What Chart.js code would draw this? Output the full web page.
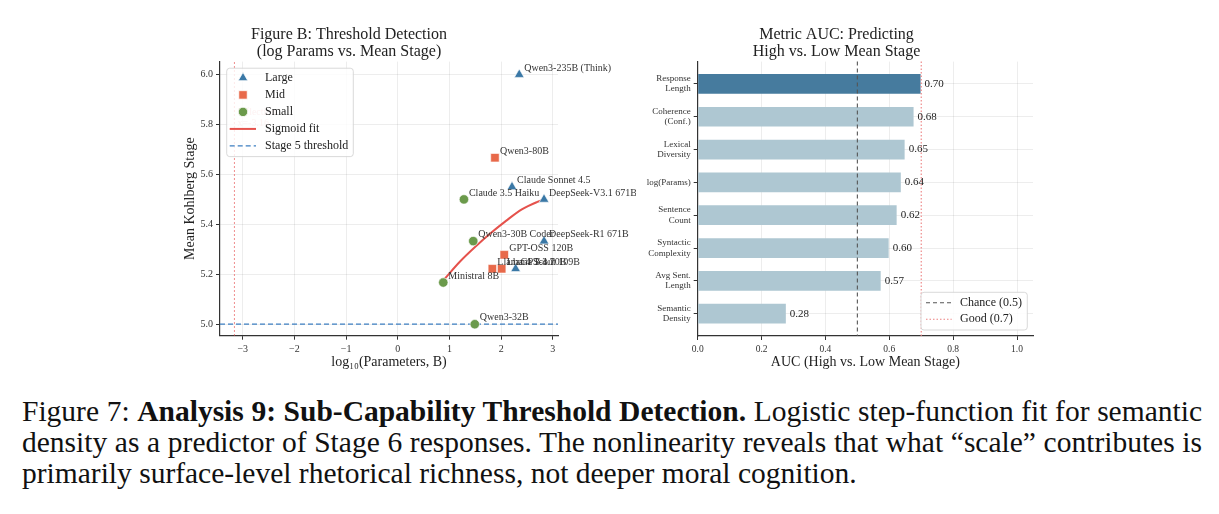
<!DOCTYPE html>
<html>
<head>
<meta charset="utf-8">
<script src="https://cdn.jsdelivr.net/npm/chart.js@4.4.1/dist/chart.umd.min.js"></script>
<style>
  body { margin: 0; background: #fff; width: 1219px; height: 514px; overflow: hidden; position: relative;
         font-family: 'Liberation Serif', 'DejaVu Serif', serif; }
  canvas { position: absolute; top: 0; }
  #leftChart { left: 140px; }
  #rightChart { left: 640px; }
  .cap { position: absolute; left: 22px; width: 1180px; font-size: 29.5px; line-height: 31px; color: #111; }
  .just { text-align: justify; text-align-last: justify; }
</style>
</head>
<body>
<canvas id="leftChart" width="496" height="380"></canvas>
<canvas id="rightChart" width="451" height="380"></canvas>

<div class="cap just" style="top:396px">Figure 7: <b>Analysis 9: Sub-Capability Threshold Detection.</b> Logistic step-function fit for semantic</div>
<div class="cap just" style="top:427px">density as a predictor of Stage 6 responses. The nonlinearity reveals that what “scale” contributes is</div>
<div class="cap" style="top:458px">primarily surface-level rhetorical richness, not deeper moral cognition.</div>

<script>
// ---- Figure B data (log10 params vs mean stage) ----
const largeNames = ['Qwen3-235B (Think)', 'Claude Sonnet 4.5', 'DeepSeek-V3.1 671B', 'DeepSeek-R1 671B', 'GPT-4.1'];
const largeX = [2.35, 2.21, 2.83, 2.83, 2.28];
const largeY = [6.0, 5.55, 5.5, 5.333, 5.222];

const midNames = ['Qwen3-80B', 'GPT-OSS 120B', 'Llama 4 Scout 109B', 'Llama 3.3 70B'];
const midX = [1.88, 2.06, 1.83, 2.01];
const midY = [5.667, 5.278, 5.222, 5.222];

const smallNames = ['Claude 3.5 Haiku', 'Qwen3-30B Coder', 'Ministral 8B', 'Qwen3-32B'];
const smallX = [1.28, 1.46, 0.88, 1.49];
const smallY = [5.5, 5.333, 5.167, 5.0];

const fitX = [0.9, 1.2, 1.5, 1.8, 2.1, 2.4, 2.7, 2.83];
const fitY = [5.18, 5.25, 5.31, 5.365, 5.415, 5.46, 5.49, 5.5];

const stage5 = 5.0;
const inflectionX = -3.16;
const xTicks = [-3, -2, -1, 0, 1, 2, 3];
const yTicks = [5.0, 5.2, 5.4, 5.6, 5.8, 6.0];

// ---- Metric AUC data ----
const metricLabels = [
    ['Response', 'Length'], ['Coherence', '(Conf.)'], ['Lexical', 'Diversity'], 'log(Params)',
    ['Sentence', 'Count'], ['Syntactic', 'Complexity'], ['Avg Sent.', 'Length'], ['Semantic', 'Density']
];
const metricAUC = [0.698, 0.676, 0.648, 0.636, 0.623, 0.598, 0.573, 0.276];
const aucTicks = [0, 0.2, 0.4, 0.6, 0.8, 1.0];
const chanceAUC = 0.5;
const goodAUC = 0.7;

const SERIF = "'Liberation Serif', 'DejaVu Serif', serif";
Chart.defaults.font.family = SERIF;
Chart.defaults.color = '#333';
Chart.defaults.animation = false;

const gridColor = 'rgba(0,0,0,0.07)';
const colLarge = '#3a78a6', colMid = '#e8694a', colSmall = '#6b9a4b';
const colFit = '#e5524c', colThresh = '#3d7fc1', colInflect = 'rgba(232,90,90,0.85)';

const toPts = (xs, ys) => xs.map((x, i) => ({ x: x, y: ys[i] }));
const xLim = [-3.44, 3.10], yLim = [4.954, 6.052];

// labels beside each scatter point + faint inflection note
const pointLabels = {
    id: 'pointLabels',
    afterDatasetsDraw(chart) {
        const ctx = chart.ctx;
        ctx.save();
        const xs = chart.scales.x, ys = chart.scales.y;
        ctx.font = '10px ' + SERIF;
        ctx.fillStyle = 'rgba(232,90,90,0.45)';
        ctx.textBaseline = 'middle';
        const ix = xs.getPixelForValue(inflectionX) + 3;
        ctx.fillText('Inflection', ix, ys.getPixelForValue(5.85));
        ctx.fillText('x=-3.16', ix, ys.getPixelForValue(5.85) + 11);

        ctx.fillStyle = '#333';
        const names = [largeNames, midNames, smallNames];
        names.forEach((list, d) => {
            chart.getDatasetMeta(d).data.forEach((el, i) => {
                ctx.fillText(list[i], el.x + 5, el.y - 6.5);
            });
        });
        ctx.restore();
    },
    afterDraw(chart) {
        const ctx = chart.ctx, ca = chart.chartArea;
        const bx = ca.left + 6.7, by = ca.top + 6.6, bw = 126.6, bh = 88.4;
        ctx.save();
        ctx.fillStyle = 'rgba(255,255,255,0.82)';
        ctx.strokeStyle = '#cfcfcf';
        ctx.lineWidth = 0.8;
        ctx.beginPath();
        ctx.roundRect(bx, by, bw, bh, 3);
        ctx.fill();
        ctx.stroke();
        ctx.font = '12px ' + SERIF;
        ctx.textBaseline = 'middle';
        const ds = chart.data.datasets;
        for (let i = 0; i < 5; i++) {
            const d = ds[i];
            const y = by + 9.7 + i * 17;
            if (i < 3) {
                ctx.fillStyle = d.backgroundColor;
                ctx.strokeStyle = '#fff';
                Chart.helpers.drawPoint(ctx, { pointStyle: d.pointStyle, radius: d.pointRadius, rotation: 0, borderWidth: 0.6 }, bx + 16.3, y);
            } else {
                ctx.strokeStyle = d.borderColor;
                ctx.lineWidth = d.borderWidth;
                ctx.setLineDash(d.borderDash || []);
                ctx.beginPath();
                ctx.moveTo(bx + 3, y);
                ctx.lineTo(bx + 29.3, y);
                ctx.stroke();
                ctx.setLineDash([]);
            }
            ctx.fillStyle = '#222';
            ctx.fillText(d.label, bx + 38.3, y);
        }
        ctx.restore();
    }
};

new Chart(document.getElementById('leftChart'), {
    type: 'scatter',
    data: {
        datasets: [
            { label: 'Large', data: toPts(largeX, largeY), pointStyle: 'triangle', pointRadius: 5.6,
              backgroundColor: colLarge, borderColor: '#fff', borderWidth: 0.6 },
            { label: 'Mid', data: toPts(midX, midY), pointStyle: 'rect', pointRadius: 6,
              backgroundColor: colMid, borderColor: '#fff', borderWidth: 0.6 },
            { label: 'Small', data: toPts(smallX, smallY), pointStyle: 'circle', pointRadius: 4.7,
              backgroundColor: colSmall, borderColor: '#fff', borderWidth: 0.6 },
            { label: 'Sigmoid fit', data: toPts(fitX, fitY), showLine: true, pointRadius: 0,
              borderColor: colFit, borderWidth: 2, cubicInterpolationMode: 'monotone', order: 5 },
            { label: 'Stage 5 threshold', data: toPts(xLim, [stage5, stage5]), showLine: true, pointRadius: 0,
              borderColor: colThresh, borderWidth: 1.3, borderDash: [5, 3], order: 6 },
            { label: 'Inflection', data: toPts([inflectionX, inflectionX], yLim), showLine: true, pointRadius: 0,
              borderColor: colInflect, borderWidth: 1.1, borderDash: [1.5, 2.5], order: 7 }
        ]
    },
    options: {
        responsive: false,
        layout: { padding: { left: 0, right: 78, top: 0, bottom: 0 } },
        plugins: {
            legend: { display: false },
            tooltip: { enabled: false },
            title: {
                display: true,
                text: ['Figure B: Threshold Detection', '(log Params vs. Mean Stage)'],
                color: '#222',
                font: { size: 16, weight: 'normal', lineHeight: 1.06 },
                padding: { top: 26, bottom: 1.7 }
            }
        },
        scales: {
            x: {
                type: 'linear', min: xLim[0], max: xLim[1],
                afterBuildTicks: s => { s.ticks = xTicks.map(v => ({ value: v })); },
                afterFit: s => { s.height = 44.3; },
                ticks: { font: { size: 10 }, padding: 4, color: '#333', callback: v => String(v).replace('-', '\u2212') },
                grid: { color: gridColor, tickColor: '#333', tickLength: 4 },
                border: { color: '#333', width: 1.2 },
                title: { display: true, text: 'log\u2081\u2080(Parameters, B)', color: '#222',
                         font: { size: 14 }, padding: { top: 0, bottom: 8.9 } }
            },
            y: {
                type: 'linear', min: yLim[0], max: yLim[1],
                afterBuildTicks: s => { s.ticks = yTicks.map(v => ({ value: v })); },
                afterFit: s => { s.width = 80; },
                ticks: { font: { size: 10 }, padding: 3, color: '#333', callback: v => v.toFixed(1) },
                grid: { color: gridColor, tickColor: '#333', tickLength: 4 },
                border: { color: '#333', width: 1.2 },
                title: { display: true, text: 'Mean Kohlberg Stage', color: '#222',
                         font: { size: 14 }, padding: { top: 41.6, bottom: 0 } }
            }
        }
    },
    plugins: [pointLabels]
});

// reference lines, value labels and legend for the AUC chart
const aucExtras = {
    id: 'aucExtras',
    afterDatasetsDraw(chart) {
        const ctx = chart.ctx, ca = chart.chartArea, xs = chart.scales.x;
        ctx.save();
        const xc = xs.getPixelForValue(chanceAUC), xg = xs.getPixelForValue(goodAUC);
        ctx.lineWidth = 1.1;
        ctx.strokeStyle = '#555';
        ctx.setLineDash([4, 3]);
        ctx.beginPath(); ctx.moveTo(xc, ca.top); ctx.lineTo(xc, ca.bottom); ctx.stroke();
        ctx.strokeStyle = '#ec8080';
        ctx.setLineDash([1.5, 2]);
        ctx.beginPath(); ctx.moveTo(xg, ca.top); ctx.lineTo(xg, ca.bottom); ctx.stroke();
        ctx.setLineDash([]);

        ctx.font = '11px ' + SERIF;
        ctx.fillStyle = '#222';
        ctx.textBaseline = 'middle';
        chart.getDatasetMeta(0).data.forEach((el, i) => {
            ctx.fillText(metricAUC[i].toFixed(2), el.x + 4, el.y);
        });

        const bw = 106.3, bh = 37.7;
        const bx = ca.right - 5.7 - bw, by = ca.bottom - 6 - bh;
        ctx.fillStyle = 'rgba(255,255,255,0.85)';
        ctx.strokeStyle = '#cfcfcf';
        ctx.lineWidth = 0.8;
        ctx.beginPath(); ctx.roundRect(bx, by, bw, bh, 3); ctx.fill(); ctx.stroke();
        const items = [
            { text: 'Chance (0.5)', color: '#555', dash: [4, 3] },
            { text: 'Good (0.7)', color: '#ec8080', dash: [1.5, 2] }
        ];
        ctx.font = '12px ' + SERIF;
        items.forEach((it, i) => {
            const y = by + 10.4 + i * 16.6;
            ctx.strokeStyle = it.color;
            ctx.lineWidth = 1.1;
            ctx.setLineDash(it.dash);
            ctx.beginPath(); ctx.moveTo(bx + 5, y); ctx.lineTo(bx + 30.7, y); ctx.stroke();
            ctx.setLineDash([]);
            ctx.fillStyle = '#222';
            ctx.fillText(it.text, bx + 39, y);
        });
        ctx.restore();
    }
};

new Chart(document.getElementById('rightChart'), {
    type: 'bar',
    data: {
        datasets: [{
            data: metricAUC.map((v, i) => ({ x: v, y: i })),
            backgroundColor: metricAUC.map((v, i) => i === 0 ? '#467b9e' : '#aec7d2'),
            barPercentage: 0.6,
            categoryPercentage: 1
        }]
    },
    options: {
        responsive: false,
        indexAxis: 'y',
        layout: { padding: { left: 0, right: 58, top: 0, bottom: 0 } },
        plugins: {
            legend: { display: false },
            tooltip: { enabled: false },
            title: {
                display: true,
                text: ['Metric AUC: Predicting', 'High vs. Low Mean Stage'],
                color: '#222',
                font: { size: 16, weight: 'normal', lineHeight: 1.06 },
                padding: { top: 26, bottom: 1.7 }
            }
        },
        scales: {
            x: {
                type: 'linear', min: 0, max: 1.05,
                afterBuildTicks: s => { s.ticks = aucTicks.map(v => ({ value: v })); },
                afterFit: s => { s.height = 44; },
                ticks: { font: { size: 9.5 }, padding: 4, color: '#333', callback: v => v.toFixed(1) },
                grid: { color: gridColor, tickColor: '#333', tickLength: 4 },
                border: { color: '#333', width: 1.2 },
                title: { display: true, text: 'AUC (High vs. Low Mean Stage)', color: '#222',
                         font: { size: 14 }, padding: { top: 0, bottom: 9.3 } }
            },
            y: {
                type: 'linear', reverse: true, min: -0.68, max: 7.68, offset: false,
                afterBuildTicks: s => { s.ticks = metricLabels.map((l, i) => ({ value: i })); },
                afterFit: s => { s.width = 57.7; },
                ticks: { font: { size: 9, lineHeight: 1.15 }, padding: 3, color: '#333', callback: v => metricLabels[v] },
                grid: { color: gridColor, tickColor: '#333', tickLength: 4, offset: false },
                border: { color: '#333', width: 1.2 }
            }
        }
    },
    plugins: [aucExtras]
});
</script>
</body>
</html>
